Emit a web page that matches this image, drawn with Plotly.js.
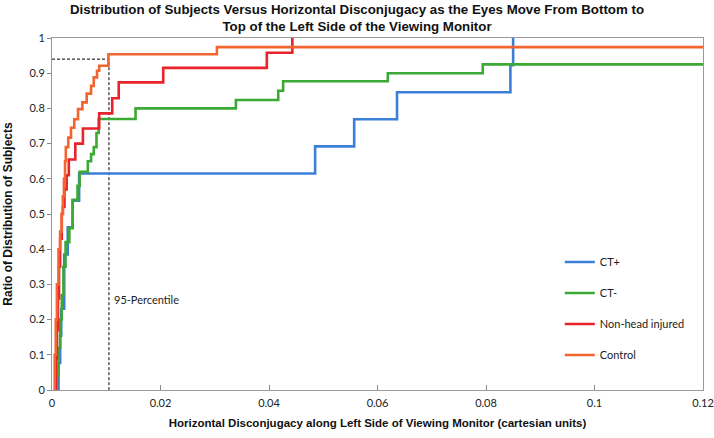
<!DOCTYPE html>
<html>
<head>
<meta charset="utf-8">
<script src="https://cdn.plot.ly/plotly-3.0.1.min.js"></script>
<style>
  html, body { margin: 0; padding: 0; background: #fff; }
  #chart { width: 714px; height: 438px; }
</style>
</head>
<body>
<div id="chart"></div>
<script>
// step (ECDF) points: x = disconjugacy, y = ratio after the step
var ctPlusX  = [0.0006, 0.0012, 0.0015, 0.0017, 0.00225, 0.0029, 0.0038, 0.0050, 0.0485, 0.0557, 0.0636, 0.0845, 0.0850];
var ctPlusY  = [0.0,    0.077,  0.154,  0.231,  0.385,   0.462,  0.538,  0.615,  0.692,  0.769,  0.846,  0.923,  1.0];

var ctMinusX = [0.0007, 0.0009, 0.0012, 0.0015, 0.0018, 0.0021, 0.0025, 0.0032, 0.0038, 0.0047, 0.0051, 0.0066, 0.0072, 0.0077, 0.0082, 0.0086, 0.0154, 0.0339, 0.0417, 0.0426, 0.0619, 0.0794, 0.12];
var ctMinusY = [0.0,    0.04,   0.12,   0.20,   0.27,   0.35,   0.42,   0.46,   0.54,   0.58,   0.62,   0.65,   0.67,   0.69,   0.73,   0.77,   0.80,   0.824,  0.85,   0.877,  0.90,   0.925,  0.925];

var nhiX = [0.0005, 0.0007, 0.0009, 0.0011, 0.0013, 0.0015, 0.0018, 0.0020, 0.0023, 0.0027, 0.0031, 0.0043, 0.0057, 0.0087, 0.0111, 0.0123, 0.0205, 0.0396, 0.0443];
var nhiY = [0.0,    0.09,   0.17,   0.26,   0.35,   0.43,   0.50,   0.52,   0.57,   0.61,   0.655,  0.70,   0.743,  0.786,  0.829,  0.874,  0.915,  0.958,  1.0];

var controlX = [0.0003, 0.0005, 0.0007, 0.0009, 0.0012, 0.0015, 0.0018, 0.0020, 0.0022, 0.0024, 0.00255, 0.0030, 0.0035, 0.0041, 0.0048, 0.0056, 0.0064, 0.0072, 0.0077, 0.0083, 0.0087, 0.0104, 0.0304, 0.12];
var controlY = [0.0,    0.10,   0.20,   0.30,   0.40,   0.45,   0.50,   0.55,   0.60,   0.65,   0.69,    0.717,  0.745,  0.769,  0.798,  0.817,  0.842,  0.864,  0.888,  0.907,  0.921,  0.954,  0.974,  0.974];

var percentileX = 0.0105;
var percentileY = 0.94;

var seriesNames = ['CT+', 'CT-', 'Non-head injured', 'Control'];
var seriesColors = ['#3C7FD9', '#3DA935', '#E8232B', '#F26430'];
var xTicks = [0, 0.02, 0.04, 0.06, 0.08, 0.1, 0.12];
var yTicks = [0, 0.1, 0.2, 0.3, 0.4, 0.5, 0.6, 0.7, 0.8, 0.9, 1];

var allX = [ctPlusX, ctMinusX, nhiX, controlX];
var allY = [ctPlusY, ctMinusY, nhiY, controlY];

var data = [];
// dashed 95-percentile guide
data.push({
    x: [0, percentileX, percentileX],
    y: [percentileY, percentileY, 0],
    mode: 'lines',
    type: 'scatter',
    line: {color: '#000', width: 1, dash: '3px,2px'},
    showlegend: false,
    hoverinfo: 'skip'
});
for (let i = 0; i < 4; i++) {
    data.push({
        x: allX[i],
        y: allY[i],
        mode: 'lines',
        type: 'scatter',
        line: {color: seriesColors[i], width: 2.6, shape: 'hv'},
        name: seriesNames[i],
        legendgroup: 'g' + i
    });
}

var tickFont = {family: 'Lato, sans-serif', size: 11, color: '#222'};
var boldFont = {family: '"Liberation Sans Narrow", sans-serif', size: 12, color: '#111', weight: 'bold'};
var layout = {
    width: 714,
    height: 438,
    margin: {l: 52, r: 11, t: 38, b: 48},
    paper_bgcolor: '#fff',
    plot_bgcolor: '#fff',
    title: {
        text: 'Distribution of Subjects Versus Horizontal Disconjugacy as the Eyes Move From Bottom to<br>Top of the Left Side of the Viewing Monitor',
        font: {family: '"Liberation Sans Narrow", sans-serif', size: 13.3, color: '#111', weight: 'bold'},
        x: 0.5, xref: 'container', xanchor: 'center',
        y: 0.969, yref: 'container', yanchor: 'middle'
    },
    xaxis: {
        range: [0, 0.12],
        tickvals: xTicks,
        ticktext: xTicks.map(String),
        ticks: 'inside', ticklen: 5, tickcolor: '#888',
        ticklabelstandoff: 3,
        showgrid: false, zeroline: false,
        showline: true, linecolor: '#999', linewidth: 1, mirror: true,
        tickfont: tickFont,
        title: {
            text: 'Horizontal Disconjugacy along Left Side of Viewing Monitor (cartesian units)',
            font: {family: '"Liberation Sans Narrow", sans-serif', size: 11.5, color: '#111', weight: 'bold'},
            standoff: 10
        }
    },
    yaxis: {
        range: [0, 1],
        tickvals: yTicks,
        ticktext: yTicks.map(String),
        ticks: 'outside', ticklen: 4, tickcolor: '#888',
        showgrid: false, zeroline: false,
        showline: true, linecolor: '#999', linewidth: 1, mirror: true,
        tickfont: tickFont,
        title: {
            text: 'Ratio of Distribution of Subjects',
            font: boldFont,
            standoff: 14
        }
    },
    legend: {
        x: 0.78, y: 0.405, xanchor: 'left', yanchor: 'top',
        font: {family: 'Lato, sans-serif', size: 11, color: '#222'},
        bgcolor: 'rgba(0,0,0,0)',
        tracegroupgap: 12,
        traceorder: 'grouped'
    },
    annotations: [{
        x: percentileX, y: 0.257, xref: 'x', yref: 'y',
        xanchor: 'left', xshift: 3,
        text: '95-Percentile', showarrow: false,
        font: {family: 'Lato, sans-serif', size: 11, color: '#222'}
    }]
};

Plotly.newPlot('chart', data, layout, {displayModeBar: false, staticPlot: true});
</script>
</body>
</html>
